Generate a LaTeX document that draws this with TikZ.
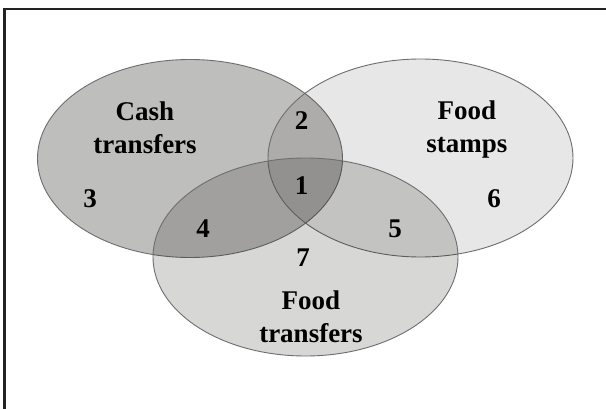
\documentclass[tikz,border=0pt]{standalone}
\usepackage{fontspec}
\setmainfont{Liberation Serif}
\usepackage{tikz}
\usetikzlibrary{shapes.geometric,backgrounds,positioning}
\definecolor{grayi}{RGB}{110,110,112}
\definecolor{grayii}{RGB}{35,35,35}
\definecolor{inki}{RGB}{10,8,4}
\tikzset{
      mysetblock/.style={
        ellipse,
        draw=grayi,
        fill=inki,
        fill opacity=#1,
        draw opacity=1,
        line width=0.9pt,
        inner sep=0pt,
        minimum width=305pt,
        minimum height=198pt
      },
      mylabel/.style={
        align=center,
        text=black,
        font=\bfseries\fontsize{27}{33}\selectfont,
        inner sep=0pt
      },
      mynumber/.style={
        text=black,
        font=\bfseries\fontsize{27}{30}\selectfont,
        inner sep=0pt
      },
    }
\begin{document}
\begin{tikzpicture}[x=1pt,y=-1pt]

          \useasboundingbox (0,0) rectangle (606,409);
          \fill[white] (0,0) rectangle (606,409);
          \draw[grayii,line width=2.8pt] (4.5,409) -- (4.5,9) -- (606,9);

          \node[mysetblock=0.263] (cash) at (190,158.5) {};
          \node[mysetblock=0.094] (stamps) at (420.5,158) {};
          \node[mysetblock=0.161] (ftransfers) at (305.5,257) {};

          \node[mylabel] (cashlabel) at (145,128) {Cash\\transfers};
          \node[mylabel] (stampslabel) at (467,130) {Food\\stamps};
          \node[mylabel] (ftransferslabel) at (311,317) {Food\\transfers};

          \node[mynumber] (n1) at (301.5,186) {1};
          \node[mynumber] (n2) at (301.5,121) {2};
          \node[mynumber] (n3) at (90,199) {3};
          \node[mynumber] (n4) at (203,229) {4};
          \node[mynumber] (n5) at (395,229) {5};
          \node[mynumber] (n6) at (494,199) {6};
          \node[mynumber] (n7) at (303,258) {7};
        \end{tikzpicture}
\end{document}
